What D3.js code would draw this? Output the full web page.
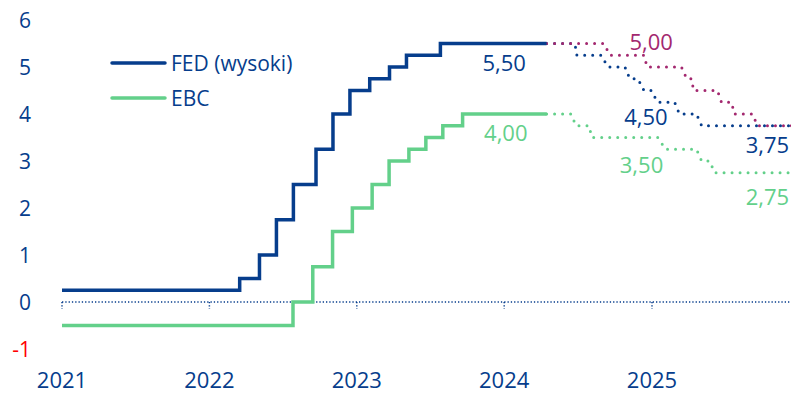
<!DOCTYPE html>
<html>
<head>
<meta charset="utf-8">
<script src="https://cdn.jsdelivr.net/npm/d3@7"></script>
<style>
  body { margin: 0; background: #fff; }
  svg text { font-family: "Open Sans", sans-serif; }
</style>
</head>
<body>
<script>
// FED upper bound, actual
var fedDates = ["2021-01-01","2022-03-17","2022-05-05","2022-06-16","2022-07-28","2022-09-22","2022-11-03","2022-12-15","2023-02-02","2023-03-23","2023-05-04","2023-07-27","2024-04-15"];
var fedValues = [0.25, 0.50, 1.00, 1.75, 2.50, 3.25, 4.00, 4.50, 4.75, 5.00, 5.25, 5.50, 5.50];
// EBC deposit rate, actual
var ebcDates = ["2021-01-01","2022-07-27","2022-09-14","2022-11-02","2022-12-21","2023-02-08","2023-03-22","2023-05-10","2023-06-21","2023-08-02","2023-09-20","2024-04-15"];
var ebcValues = [-0.50, 0.00, 0.75, 1.50, 2.00, 2.50, 3.00, 3.25, 3.50, 3.75, 4.00, 4.00];
// forecasts (dotted)
var fedFcDates = ["2024-04-15","2024-06-24","2024-06-29","2024-08-28","2024-09-14","2024-10-26","2024-11-07","2024-11-27","2024-12-12","2024-12-30","2025-01-15","2025-02-26","2025-03-10","2025-04-21","2025-05-04","2026-03-01"];
var fedFcValues = [5.50, 5.50, 5.25, 5.25, 5.00, 5.00, 4.75, 4.75, 4.50, 4.50, 4.25, 4.25, 4.00, 4.00, 3.75, 3.75];
var fedAltDates = ["2024-04-15","2024-09-04","2024-09-19","2024-12-12","2024-12-20","2025-03-15","2025-03-28","2025-04-09","2025-04-14","2025-06-12","2025-06-22","2025-07-17","2025-07-24","2025-09-07","2025-09-19","2026-03-01"];
var fedAltValues = [5.50, 5.50, 5.25, 5.25, 5.00, 5.00, 4.75, 4.75, 4.50, 4.50, 4.25, 4.25, 4.00, 4.00, 3.75, 3.75];
var ebcFcDates = ["2024-04-15","2024-06-14","2024-06-27","2024-07-29","2024-08-05","2025-01-15","2025-02-04","2025-04-21","2025-05-04","2025-05-24","2025-06-05","2026-03-01"];
var ebcFcValues = [4.00, 4.00, 3.75, 3.75, 3.50, 3.50, 3.25, 3.25, 3.00, 3.00, 2.75, 2.75];

var yearTicks = ["2021","2022","2023","2024","2025"];
var yTicks = [-1, 0, 1, 2, 3, 4, 5, 6];

var navy = "#063d8c", green = "#63d08a", plum = "#a3286f";

var w = 791, h = 394;
var parse = d3.timeParse("%Y-%m-%d");
var svg = d3.select("body").append("svg").attr("width", w).attr("height", h);

var x = d3.scaleTime()
  .domain([parse("2021-01-01"), parse("2025-01-01")])
  .range([62, 652]);
var y = d3.scaleLinear().domain([-1, 6]).range([349, 20]);

// zero line with dotted ticks
svg.append("line")
  .attr("x1", x(parse("2021-01-01"))).attr("x2", w)
  .attr("y1", y(0)).attr("y2", y(0))
  .attr("stroke", navy).attr("stroke-width", 1.5)
  .attr("stroke-dasharray", "1.3 2");
svg.selectAll(".xtick").data(yearTicks).enter().append("line")
  .attr("x1", function(d) { return x(parse(d + "-01-01")); })
  .attr("x2", function(d) { return x(parse(d + "-01-01")); })
  .attr("y1", y(0)).attr("y2", y(0) + 7)
  .attr("stroke", navy).attr("stroke-width", 1.5)
  .attr("stroke-dasharray", "1.3 2");

// axis labels
svg.selectAll(".ylab").data(yTicks).enter().append("text")
  .attr("x", 31).attr("y", function(d) { return y(d); })
  .attr("dy", "0.36em").attr("text-anchor", "end")
  .attr("font-size", 21)
  .attr("fill", function(d) { return d < 0 ? "#ff0000" : navy; })
  .text(function(d) { return d; });
svg.selectAll(".xlab").data(yearTicks).enter().append("text")
  .attr("x", function(d) { return x(parse(d + "-01-01")); })
  .attr("y", 388).attr("text-anchor", "middle")
  .attr("font-size", 22).attr("fill", navy)
  .text(function(d) { return d; });

function toPts(dates, vals) {
  return dates.map(function(d, i) { return [parse(d), vals[i]]; });
}
var stepLine = d3.line().x(function(d) { return x(d[0]); }).y(function(d) { return y(d[1]); }).curve(d3.curveStepAfter);
var plainLine = d3.line().x(function(d) { return x(d[0]); }).y(function(d) { return y(d[1]); });

function dotted(pts, color) {
  svg.append("path").attr("d", plainLine(pts))
    .attr("fill", "none").attr("stroke", color).attr("stroke-width", 3)
    .attr("stroke-linecap", "round").attr("stroke-dasharray", "0 8");
}
dotted(toPts(ebcFcDates, ebcFcValues), green);
dotted(toPts(fedFcDates, fedFcValues), navy);
dotted(toPts(fedAltDates, fedAltValues), plum);

svg.append("path").attr("d", stepLine(toPts(ebcDates, ebcValues)))
  .attr("fill", "none").attr("stroke", green).attr("stroke-width", 3.5);
svg.append("path").attr("d", stepLine(toPts(fedDates, fedValues)))
  .attr("fill", "none").attr("stroke", navy).attr("stroke-width", 3.5);

// value labels
var labels = [
  { t: "5,50", d: "2024-01-01", v: 5.50, c: navy, dy: 19.5 },
  { t: "4,00", d: "2024-01-05", v: 4.00, c: green, dy: 19 },
  { t: "5,00", d: "2024-12-30", v: 5.00, c: plum, dy: -25 },
  { t: "4,50", d: "2024-12-17", v: 4.50, c: navy, dy: 26.5 },
  { t: "3,50", d: "2024-12-06", v: 3.50, c: green, dy: 27.5 },
  { t: "3,75", d: "2025-10-14", v: 3.75, c: navy, dy: 19 },
  { t: "2,75", d: "2025-10-14", v: 2.75, c: green, dy: 24 }
];
svg.selectAll(".vlab").data(labels).enter().append("text")
  .attr("x", function(d) { return x(parse(d.d)); })
  .attr("y", function(d) { return y(d.v) + d.dy; })
  .attr("dy", "0.36em").attr("text-anchor", "middle")
  .attr("font-size", 22)
  .attr("fill", function(d) { return d.c; })
  .text(function(d) { return d.t; });

// legend
var legend = [ { name: "FED (wysoki)", c: navy, y: 63 }, { name: "EBC", c: green, y: 98 } ];
var lg = svg.selectAll(".lg").data(legend).enter().append("g");
lg.append("line").attr("x1", 112).attr("x2", 165)
  .attr("y1", function(d) { return d.y; }).attr("y2", function(d) { return d.y; })
  .attr("stroke", function(d) { return d.c; }).attr("stroke-width", 3.5)
  .attr("stroke-linecap", "round");
lg.append("text").attr("x", 171).attr("y", function(d) { return d.y; })
  .attr("dy", "0.36em").attr("font-size", 21).attr("fill", navy)
  .text(function(d) { return d.name; });
</script>
</body>
</html>
